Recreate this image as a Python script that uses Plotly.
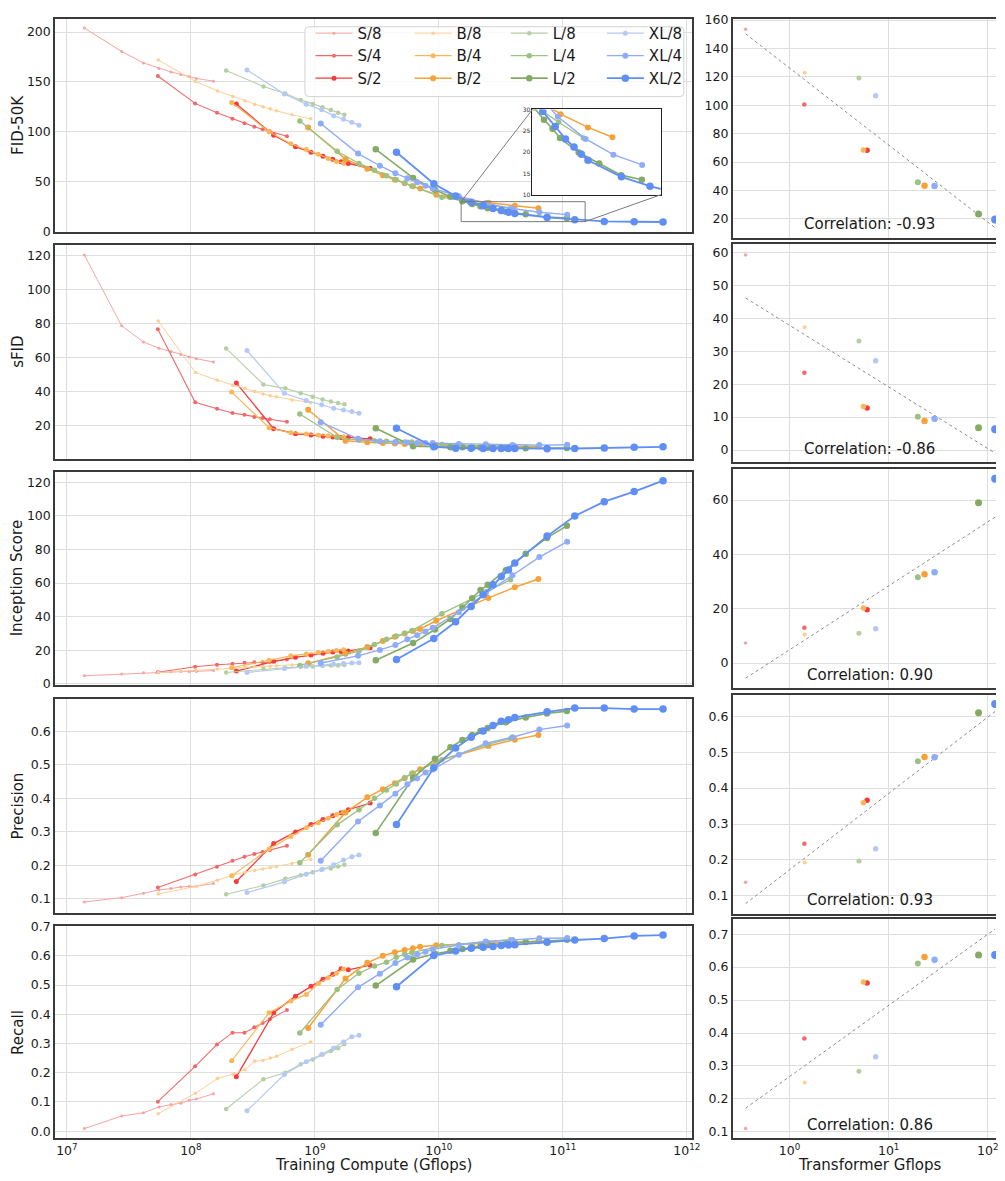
import numpy as np
import plotly.graph_objects as go

W, H = 1005, 1181
FONT = "DejaVu Sans"

# ---------------- data ----------------
MODELS = ["S/8", "S/4", "S/2", "B/8", "B/4", "B/2", "L/8", "L/4", "L/2", "XL/8", "XL/4", "XL/2"]
GFLOPS = [0.36, 1.41, 6.06, 1.42, 5.56, 23.01, 5.01, 19.70, 80.71, 7.39, 29.05, 118.64]
COLORS = ["#f7a3a3", "#f26868", "#f43c3c",
          "#fdcf94", "#f9b758", "#f6a238",
          "#b5cfa3", "#9dc185", "#83ab63",
          "#b5c9f8", "#8eacf7", "#5f8ff5"]
MARKER_SIZE = [3, 4, 5, 3.5, 5, 6, 4.5, 5.5, 6.5, 5, 6, 7.5]
LINE_WIDTH = [1.0, 1.1, 1.3, 1.0, 1.2, 1.5, 1.1, 1.3, 1.6, 1.2, 1.4, 1.8]

BATCH_SIZE = 256
REF_STEP_K = 400  # checkpoint shown in the right-hand panels

STEPS_K = {
    "S/8": [50, 100, 150, 200, 250, 300, 350, 400, 550],
    "S/4": [50, 100, 150, 200, 250, 300, 350, 400, 550],
    "S/2": [50, 100, 150, 200, 250, 300, 350, 400, 600],
    "B/8": [50, 100, 150, 200, 250, 300, 350, 400, 450, 600, 850],
    "B/4": [50, 100, 150, 200, 250, 300, 350, 400],
    "B/2": [50, 100, 150, 200, 250, 300, 350, 400, 540, 1420, 2320, 3600],
    "L/8": [50, 100, 150, 200, 250, 300, 350, 400, 450],
    "L/4": [50, 100, 150, 200, 250, 300, 350, 400, 700, 1600, 2500],
    "L/2": [50, 100, 150, 200, 250, 300, 350, 400, 560, 810, 1200, 1740],
    "XL/8": [50, 100, 150, 200, 250, 300, 350, 400],
    "XL/4": [50, 100, 150, 200, 250, 300, 350, 400, 650, 1070, 1760, 2900, 4860],
    "XL/2": [50, 100, 150, 200, 250, 300, 350, 400, 450, 820, 1370, 2370, 4130, 7060],
}

FID = {
    "S/8": [204, 180.5, 169, 163.5, 160, 157.5, 155.5, 153.5, 150.8],
    "S/4": [156, 128.5, 119, 113, 108.5, 105, 102.5, 100.5, 95.5],
    "S/2": [128, 96.5, 85, 79.5, 75.5, 72.5, 70, 68.3, 63.5],
    "B/8": [172, 150.5, 141, 135.5, 131, 127.5, 125, 123, 121, 117, 113],
    "B/4": [129.4, 100, 88, 82.2, 77.6, 73.3, 70.3, 68.5],
    "B/2": [104.3, 72.6, 63, 56.5, 52, 48.5, 45.5, 43.3, 37, 28.9, 25.8, 23.5],
    "L/8": [161.5, 145.5, 138.5, 132, 128, 124.5, 121.8, 119.2, 117.2],
    "L/4": [110.9, 80.5, 68.3, 61.5, 56, 52, 48.5, 45.8, 34.5, 27, 23.3],
    "L/2": [82.5, 53.8, 42, 35, 30.5, 27.6, 25.5, 23.3, 19.9, 17.3, 14.6, 13.5],
    "XL/8": [162, 138, 127.7, 122, 116.2, 112.5, 109.6, 106.7],
    "XL/4": [108.3, 78.2, 66, 58.4, 53.5, 49.5, 46, 43.2, 35.5, 28.3, 23.1, 19.4, 17.0],
    "XL/2": [79.5, 47.9, 35.6, 29.5, 26.0, 23.1, 21.2, 19.5, 18.1, 14.2, 12.0, 10.2, 9.9, 9.6],
}

SFID = {
    "S/8": [120.2, 78.5, 69, 65.3, 63.4, 61.7, 60.2, 59.2, 57.2],
    "S/4": [76.5, 33.5, 29.7, 27.2, 26.1, 24.9, 24.2, 23.5, 22.0],
    "S/2": [44.8, 18.0, 15.0, 14.2, 13.5, 13.1, 12.8, 12.8, 12.0],
    "B/8": [81.4, 51, 46.5, 43.6, 41.7, 39.8, 38.4, 37.3, 36.7, 34.9, 33.2],
    "B/4": [39.5, 18.5, 15.6, 14.8, 14.1, 13.7, 13.4, 13.2],
    "B/2": [29.1, 10.8, 10.0, 9.5, 9.2, 9.0, 8.9, 8.8, 8.3, 7.7, 7.6, 7.5],
    "L/8": [65.2, 44, 41.7, 38.8, 36.7, 35.1, 34, 33.1, 32.4],
    "L/4": [26.6, 12.8, 11.3, 10.9, 10.6, 10.4, 10.2, 10.1, 8.6, 7.8, 7.6],
    "L/2": [18.2, 7.6, 7.3, 7.1, 7.0, 6.9, 6.9, 6.8, 6.6, 6.5, 6.5, 6.6],
    "XL/8": [64, 38.8, 34.5, 32, 30, 28.9, 28.1, 27.1],
    "XL/4": [21.8, 12.0, 10.6, 10.0, 9.8, 9.6, 9.5, 9.5, 9.0, 8.8, 8.4, 8.3, 8.5],
    "XL/2": [18.2, 7.3, 6.5, 6.4, 6.3, 6.3, 6.3, 6.3, 6.3, 6.2, 6.3, 6.6, 7.0, 7.3],
}

IS = {
    "S/8": [4.8, 5.9, 6.6, 7.0, 7.2, 7.3, 7.4, 7.4, 8.0],
    "S/4": [6.9, 10.2, 11.4, 12.0, 12.5, 12.8, 12.9, 13.0, 14.5],
    "S/2": [7.6, 13.4, 15.8, 17.2, 18.2, 18.9, 19.3, 19.6, 21.5],
    "B/8": [6.7, 8.0, 8.9, 9.5, 9.9, 10.2, 10.4, 10.5, 10.7, 11.3, 12.0],
    "B/4": [9.6, 14.1, 16.7, 17.8, 18.7, 19.3, 19.8, 20.3],
    "B/2": [12.2, 18.0, 22.0, 25.5, 28.0, 30.0, 31.5, 32.7, 37.6, 51.2, 57.5, 62.4],
    "L/8": [6.8, 8.8, 9.6, 10.1, 10.4, 10.7, 10.9, 11.0, 11.3],
    "L/4": [11.0, 16.0, 19.5, 23.5, 26.5, 28.5, 30.2, 31.6, 41.8, 55.0, 62.0],
    "L/2": [14.1, 24.3, 32.4, 38.6, 45.5, 51, 55.9, 59, 67.6, 77.5, 86.9, 94.1],
    "XL/8": [6.8, 9.2, 10.4, 11.2, 11.7, 12.1, 12.4, 12.6],
    "XL/4": [12.4, 16.7, 20.2, 23.1, 26.5, 29, 31.2, 33.4, 42.7, 53.9, 64.7, 75.5, 84.7],
    "XL/2": [14.5, 27, 37, 46, 53, 59, 64, 67.8, 72, 88, 100, 108.5, 114.5, 121],
}

PREC = {
    "S/8": [0.091, 0.104, 0.117, 0.127, 0.131, 0.136, 0.137, 0.138, 0.146],
    "S/4": [0.134, 0.173, 0.196, 0.214, 0.226, 0.234, 0.240, 0.245, 0.259],
    "S/2": [0.152, 0.265, 0.300, 0.322, 0.337, 0.348, 0.357, 0.366, 0.386],
    "B/8": [0.115, 0.137, 0.156, 0.171, 0.180, 0.185, 0.189, 0.193, 0.196, 0.206, 0.218],
    "B/4": [0.169, 0.249, 0.286, 0.312, 0.327, 0.341, 0.352, 0.359],
    "B/2": [0.232, 0.358, 0.403, 0.427, 0.445, 0.460, 0.475, 0.487, 0.510, 0.556, 0.575, 0.589],
    "L/8": [0.114, 0.140, 0.160, 0.171, 0.180, 0.189, 0.191, 0.197, 0.202],
    "L/4": [0.208, 0.321, 0.366, 0.400, 0.425, 0.443, 0.461, 0.475, 0.515, 0.560, 0.578],
    "L/2": [0.297, 0.461, 0.518, 0.552, 0.574, 0.589, 0.601, 0.610, 0.627, 0.641, 0.653, 0.660],
    "XL/8": [0.119, 0.151, 0.174, 0.187, 0.202, 0.216, 0.226, 0.231],
    "XL/4": [0.214, 0.331, 0.379, 0.414, 0.442, 0.460, 0.477, 0.486, 0.530, 0.564, 0.582, 0.605, 0.617],
    "XL/2": [0.322, 0.491, 0.550, 0.582, 0.601, 0.617, 0.630, 0.634, 0.641, 0.658, 0.669, 0.669, 0.666, 0.666],
}

REC = {
    "S/8": [0.009, 0.052, 0.063, 0.083, 0.091, 0.096, 0.106, 0.110, 0.128],
    "S/4": [0.101, 0.222, 0.297, 0.337, 0.337, 0.356, 0.370, 0.383, 0.415],
    "S/2": [0.186, 0.405, 0.462, 0.496, 0.520, 0.537, 0.556, 0.552, 0.568],
    "B/8": [0.060, 0.130, 0.180, 0.195, 0.210, 0.240, 0.242, 0.250, 0.256, 0.280, 0.305],
    "B/4": [0.241, 0.405, 0.445, 0.468, 0.505, 0.525, 0.540, 0.555],
    "B/2": [0.353, 0.522, 0.576, 0.600, 0.612, 0.620, 0.626, 0.631, 0.636, 0.643, 0.647, 0.650],
    "L/8": [0.076, 0.178, 0.200, 0.229, 0.245, 0.262, 0.274, 0.284, 0.298],
    "L/4": [0.336, 0.485, 0.540, 0.565, 0.578, 0.595, 0.605, 0.611, 0.635, 0.648, 0.655],
    "L/2": [0.498, 0.587, 0.607, 0.617, 0.623, 0.629, 0.633, 0.637, 0.641, 0.647, 0.650, 0.655],
    "XL/8": [0.070, 0.194, 0.238, 0.262, 0.285, 0.305, 0.323, 0.328],
    "XL/4": [0.364, 0.492, 0.539, 0.575, 0.594, 0.604, 0.614, 0.622, 0.637, 0.649, 0.654, 0.660, 0.661],
    "XL/2": [0.494, 0.601, 0.616, 0.626, 0.629, 0.632, 0.635, 0.637, 0.638, 0.646, 0.654, 0.659, 0.668, 0.671],
}

METRIC_TITLES = ["FID-50K", "sFID", "Inception Score", "Precision", "Recall"]
METRIC_DATA = [FID, SFID, IS, PREC, REC]
CORR_LABELS = ["Correlation: -0.93", "Correlation: -0.86", "Correlation: 0.90",
               "Correlation: 0.93", "Correlation: 0.86"]

X_TICKVALS = [1e7, 1e8, 1e9, 1e10, 1e11, 1e12]
X_TICKTEXT = ["10<sup>7</sup>", "10<sup>8</sup>", "10<sup>9</sup>",
              "10<sup>10</sup>", "10<sup>11</sup>", "10<sup>12</sup>"]
RX_TICKVALS = [1, 10, 100]
RX_TICKTEXT = ["10<sup>0</sup>", "10<sup>1</sup>", "10<sup>2</sup>"]

LEFT_YTICKS = [[0, 50, 100, 150, 200], [20, 40, 60, 80, 100, 120], [0, 20, 40, 60, 80, 100, 120],
               [0.1, 0.2, 0.3, 0.4, 0.5, 0.6], [0.0, 0.1, 0.2, 0.3, 0.4, 0.5, 0.6, 0.7]]
RIGHT_YTICKS = [[20, 40, 60, 80, 100, 120, 140, 160], [0, 10, 20, 30, 40, 50, 60], [0, 20, 40, 60],
                [0.1, 0.2, 0.3, 0.4, 0.5, 0.6], [0.1, 0.2, 0.3, 0.4, 0.5, 0.6, 0.7]]
TICKFORMATS = ["", "", "", ".1f", ".1f"]

# ---------------- layout geometry (pixels) ----------------
LEFT_X = (55.5, 698.0)
RIGHT_X = (739.3, 1005.0)
LEFT_Y = [(11.7, 227.3), (241.0, 457.3), (470.7, 686.0), (700.0, 916.7), (929.7, 1145.0)]
RIGHT_Y = [(11.7, 233.3), (240.0, 460.7), (467.3, 689.3), (696.0, 917.7), (923.3, 1145.0)]
LEFT_XRANGE = [6.904, 12.04]
RIGHT_XRANGE = [-0.574, 2.083]
LEFT_YRANGE = [[0.0, 213.5], [0.2, 126.0], [-0.6, 126.1], [0.0587, 0.697], [-0.0247, 0.703]]
RIGHT_YRANGE = [[6.8, 161.1], [-3.7, 62.5], [-9.2, 71.5], [0.05, 0.66], [0.08, 0.745]]
INSET_X = (537.3, 666.7)
INSET_Y = (103.7, 190.0)
INSET_XRANGE = [10.18, 11.18]
INSET_YRANGE = [10, 30]
LEGEND_COL_X = [313.3, 413.3, 510.3, 607.3]
LEGEND_TOP = 10
LEGEND_BOX = (307.7, 20.0, 690.0, 90.7)


def dom_x(p):
    return [p[0] / W, p[1] / W]


def dom_y(p):
    return [1 - p[1] / H, 1 - p[0] / H]


def axname(letter, n):
    return f"{letter}axis" if n == 1 else f"{letter}axis{n}"


def axref(letter, n):
    return letter if n == 1 else f"{letter}{n}"


def main_to_px(logx, y):
    fx = (logx - LEFT_XRANGE[0]) / (LEFT_XRANGE[1] - LEFT_XRANGE[0])
    fy = (y - LEFT_YRANGE[0][0]) / (LEFT_YRANGE[0][1] - LEFT_YRANGE[0][0])
    return LEFT_X[0] + fx * (LEFT_X[1] - LEFT_X[0]), LEFT_Y[0][1] - fy * (LEFT_Y[0][1] - LEFT_Y[0][0])


GRID = "#dedede"
FRAME = "#3a3a3a"
TICKFONT = dict(family=FONT, size=12.5, color="#1a1a1a")

fig = go.Figure()
layout = dict(width=W, height=H, autosize=False, margin=dict(l=0, r=0, t=0, b=0),
              paper_bgcolor="white", plot_bgcolor="white",
              font=dict(family=FONT, color="#1a1a1a"), showlegend=True)

for i in range(5):
    nl, nr = 2 * i + 1, 2 * i + 2
    layout[axname("x", nl)] = dict(
        type="log", domain=dom_x(LEFT_X), range=LEFT_XRANGE, anchor=axref("y", nl),
        tickvals=X_TICKVALS, ticktext=X_TICKTEXT, showticklabels=(i == 4),
        showgrid=True, gridcolor=GRID, gridwidth=1.3, showline=True, linecolor=FRAME,
        linewidth=1.5, mirror=True, ticks="", zeroline=False, tickfont=TICKFONT)
    layout[axname("y", nl)] = dict(
        domain=dom_y(LEFT_Y[i]), range=LEFT_YRANGE[i], anchor=axref("x", nl),
        tickvals=LEFT_YTICKS[i], tickformat=TICKFORMATS[i],
        showgrid=True, gridcolor=GRID, gridwidth=1.3, showline=True, linecolor=FRAME,
        linewidth=1.5, mirror=True, ticks="", zeroline=False, tickfont=TICKFONT)
    layout[axname("x", nr)] = dict(
        type="log", domain=dom_x(RIGHT_X), range=RIGHT_XRANGE, anchor=axref("y", nr),
        tickvals=RX_TICKVALS, ticktext=RX_TICKTEXT, showticklabels=(i == 4),
        showgrid=True, gridcolor=GRID, gridwidth=1.3, showline=True, linecolor=FRAME,
        linewidth=1.5, mirror=True, ticks="", zeroline=False, tickfont=TICKFONT)
    layout[axname("y", nr)] = dict(
        domain=dom_y(RIGHT_Y[i]), range=RIGHT_YRANGE[i], anchor=axref("x", nr),
        tickvals=RIGHT_YTICKS[i], tickformat=TICKFORMATS[i],
        showgrid=True, gridcolor=GRID, gridwidth=1.3, showline=True, linecolor=FRAME,
        linewidth=1.5, mirror=False, ticks="", zeroline=False, tickfont=TICKFONT)

# inset axes
layout["xaxis11"] = dict(type="log", domain=dom_x(INSET_X), range=INSET_XRANGE, anchor="y11",
                         showgrid=False, showticklabels=False, showline=True, linecolor="#222",
                         linewidth=1, mirror=True, ticks="", zeroline=False)
layout["yaxis11"] = dict(domain=dom_y(INSET_Y), range=INSET_YRANGE, anchor="x11",
                         tickvals=[10, 15, 20, 25, 30], showgrid=False, showline=True,
                         linecolor="#222", linewidth=1, mirror=True, ticks="", zeroline=False,
                         tickfont=dict(family=FONT, size=6, color="#333"))

legend_ids = ["legend", "legend2", "legend3", "legend4"]
for k, lid in enumerate(legend_ids):
    layout[lid] = dict(x=LEGEND_COL_X[k] / W, y=1 - LEGEND_TOP / H, xanchor="left", yanchor="top",
                       bgcolor="rgba(0,0,0,0)", borderwidth=0, font=dict(family=FONT, size=15, color="#1a1a1a"),
                       tracegroupgap=0, itemwidth=37, traceorder="normal")

# ---------------- left panels: metric vs training compute ----------------
compute = {m: np.array(STEPS_K[m]) * 1000 * GFLOPS[j] * 3 * BATCH_SIZE for j, m in enumerate(MODELS)}

for i, data in enumerate(METRIC_DATA):
    nl = 2 * i + 1
    for j, m in enumerate(MODELS):
        fig.add_trace(go.Scatter(
            x=compute[m], y=data[m], mode="lines+markers", name=m,
            line=dict(color=COLORS[j], width=LINE_WIDTH[j]),
            marker=dict(color=COLORS[j], size=MARKER_SIZE[j]),
            xaxis=axref("x", nl), yaxis=axref("y", nl),
            showlegend=(i == 0), legend=legend_ids[j // 3], hoverinfo="skip"))

# inset indicator rectangle on the FID panel
ix0, ix1 = 10 ** INSET_XRANGE[0], 10 ** INSET_XRANGE[1]
iy0, iy1 = INSET_YRANGE
fig.add_trace(go.Scatter(x=[ix0, ix1, ix1, ix0, ix0], y=[iy0, iy0, iy1, iy1, iy0], mode="lines",
                         line=dict(color="#7a7a7a", width=1), xaxis="x", yaxis="y",
                         showlegend=False, hoverinfo="skip"))

# inset: white background then the same FID curves
fig.add_trace(go.Scatter(x=[ix0 * 0.9, ix1 * 1.1, ix1 * 1.1, ix0 * 0.9, ix0 * 0.9],
                         y=[iy0 - 5, iy0 - 5, iy1 + 5, iy1 + 5, iy0 - 5], mode="lines", fill="toself",
                         fillcolor="white", line=dict(width=0, color="white"),
                         xaxis="x11", yaxis="y11", showlegend=False, hoverinfo="skip"))
for j, m in enumerate(MODELS):
    fig.add_trace(go.Scatter(
        x=compute[m], y=FID[m], mode="lines+markers",
        line=dict(color=COLORS[j], width=LINE_WIDTH[j]),
        marker=dict(color=COLORS[j], size=MARKER_SIZE[j]),
        xaxis="x11", yaxis="y11", showlegend=False, hoverinfo="skip"))

# ---------------- right panels: metric vs transformer Gflops ----------------
lg = np.log10(np.array(GFLOPS))
for i, data in enumerate(METRIC_DATA):
    nr = 2 * i + 2
    vals = np.array([data[m][STEPS_K[m].index(REF_STEP_K)] for m in MODELS])
    slope, icpt = np.polyfit(lg, vals, 1)
    xs = np.array([lg.min(), lg.max()])
    fig.add_trace(go.Scatter(x=10 ** xs, y=slope * xs + icpt, mode="lines",
                             line=dict(color="#8a8a8a", width=1, dash="dot"),
                             xaxis=axref("x", nr), yaxis=axref("y", nr),
                             showlegend=False, hoverinfo="skip"))
    for j, m in enumerate(MODELS):
        fig.add_trace(go.Scatter(x=[GFLOPS[j]], y=[vals[j]], mode="markers",
                                 marker=dict(color=COLORS[j], size=MARKER_SIZE[j] + 0.5),
                                 xaxis=axref("x", nr), yaxis=axref("y", nr),
                                 showlegend=False, hoverinfo="skip"))

# ---------------- annotations ----------------
ann = []
for i, t in enumerate(METRIC_TITLES):
    cy = (LEFT_Y[i][0] + LEFT_Y[i][1]) / 2
    ann.append(dict(text=t, x=18 / W, y=1 - cy / H, xref="paper", yref="paper", textangle=-90,
                    showarrow=False, font=dict(family=FONT, size=15, color="#1a1a1a"),
                    xanchor="center", yanchor="middle"))
rcx = 877.7
for i, t in enumerate(CORR_LABELS):
    ann.append(dict(text=t, x=rcx / W, y=1 - (RIGHT_Y[i][1] - 2.5) / H, xref="paper", yref="paper",
                    showarrow=False, font=dict(family=FONT, size=15, color="#1a1a1a"),
                    xanchor="center", yanchor="bottom"))
ann.append(dict(text="Training Compute (Gflops)", x=(LEFT_X[0] + LEFT_X[1]) / 2 / W, y=1 - 1171.7 / H,
                xref="paper", yref="paper", showarrow=False, xanchor="center", yanchor="middle",
                font=dict(family=FONT, size=15, color="#1a1a1a")))
ann.append(dict(text="Transformer Gflops", x=rcx / W, y=1 - 1171.7 / H,
                xref="paper", yref="paper", showarrow=False, xanchor="center", yanchor="middle",
                font=dict(family=FONT, size=15, color="#1a1a1a")))
layout["annotations"] = ann

# ---------------- shapes: legend frame and inset connectors ----------------
shapes = []
bx0, by0, bx1, by1 = LEGEND_BOX
r = 4.0


def P(x, y):
    return f"{x / W:.5f},{1 - y / H:.5f}"


path = (f"M {P(bx0 + r, by0)} L {P(bx1 - r, by0)} Q {P(bx1, by0)} {P(bx1, by0 + r)} "
        f"L {P(bx1, by1 - r)} Q {P(bx1, by1)} {P(bx1 - r, by1)} L {P(bx0 + r, by1)} "
        f"Q {P(bx0, by1)} {P(bx0, by1 - r)} L {P(bx0, by0 + r)} Q {P(bx0, by0)} {P(bx0 + r, by0)} Z")
shapes.append(dict(type="path", path=path, xref="paper", yref="paper", layer="above",
                   fillcolor="rgba(255,255,255,0.85)", line=dict(color="#d2d2d2", width=1)))

tlx, tly = main_to_px(INSET_XRANGE[0], INSET_YRANGE[1])
brx, bry = main_to_px(INSET_XRANGE[1], INSET_YRANGE[0])
shapes.append(dict(type="line", xref="paper", yref="paper", x0=tlx / W, y0=1 - tly / H,
                   x1=INSET_X[0] / W, y1=1 - INSET_Y[0] / H, line=dict(color="#7a7a7a", width=1)))
shapes.append(dict(type="line", xref="paper", yref="paper", x0=brx / W, y0=1 - bry / H,
                   x1=INSET_X[1] / W, y1=1 - INSET_Y[1] / H, line=dict(color="#7a7a7a", width=1)))
layout["shapes"] = shapes

fig.update_layout(**layout)
fig.write_html("out.html")
